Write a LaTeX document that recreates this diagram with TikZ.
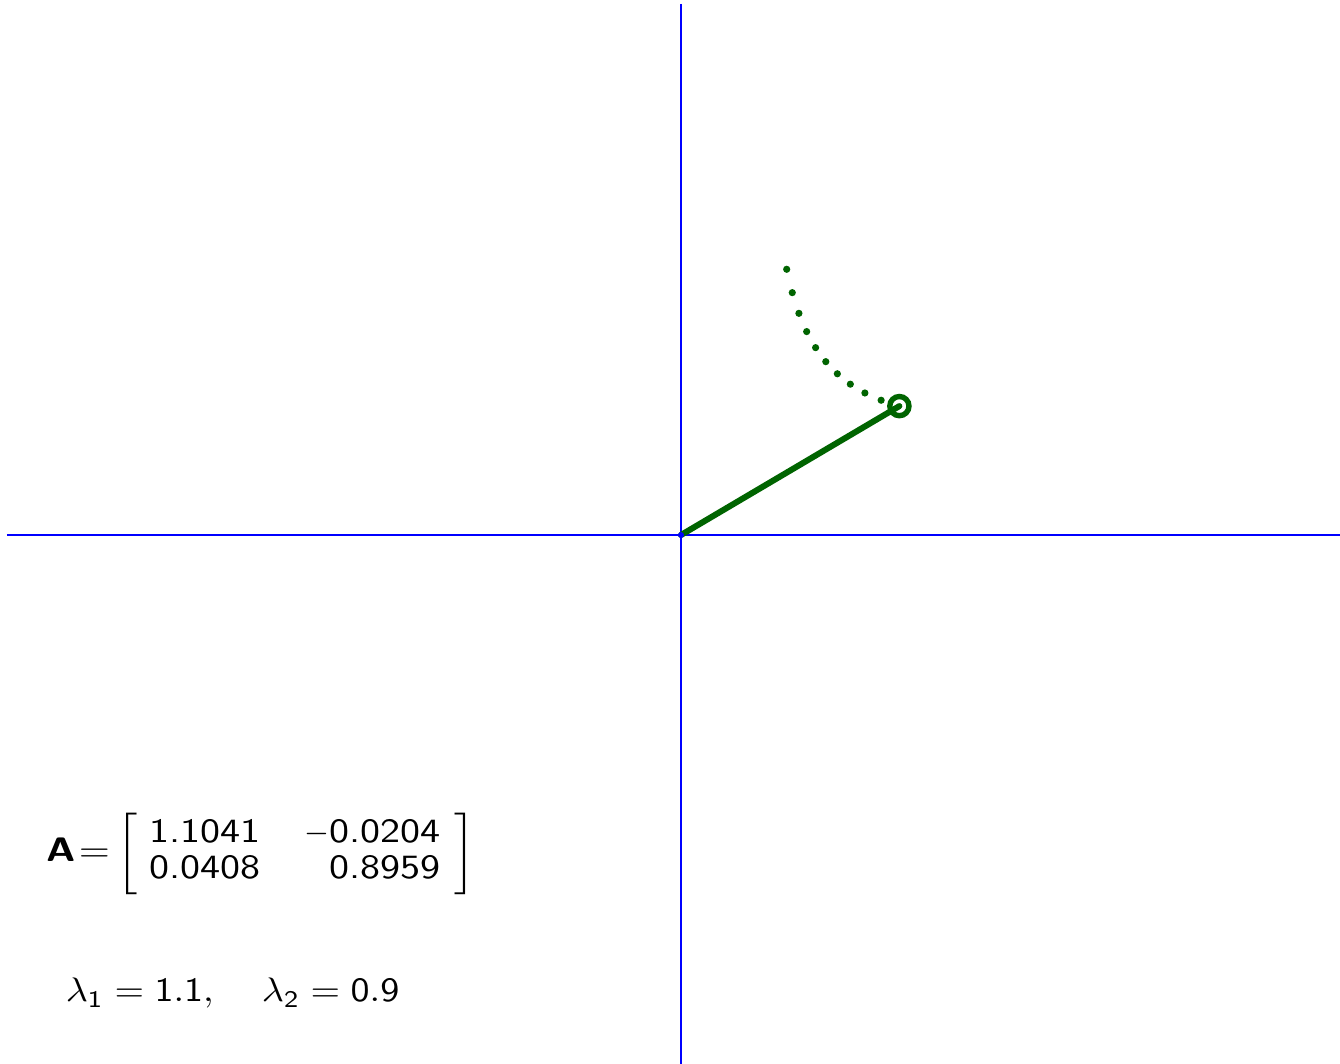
\documentclass[tikz,border=0pt]{standalone}
\usetikzlibrary{calc}
\definecolor{vecgreen}{RGB}{0,100,0}
\begin{document}
\begin{tikzpicture}[x=0.5pt,y=0.5pt,
  axis/.style={blue,line width=1pt},
  vec/.style={vecgreen,line width=3pt,line cap=round},
  trail/.style={fill=vecgreen,draw=none,circle,inner sep=0pt,minimum size=3.6pt},
  ring/.style={draw=vecgreen,line width=2.7pt,circle,inner sep=0pt,minimum size=9.6pt},
  lbl/.style={anchor=base west,inner sep=0pt,xscale=1.9,yscale=1.7,font=\fontsize{10}{10.3}\selectfont\sffamily}]
\useasboundingbox[fill=white] (-681,-529) rectangle (659,535);
% axes
\coordinate (xl) at (-674,0);
\coordinate (xr) at (659,0);
\coordinate (yt) at (0,531);
\coordinate (yb) at (0,-529);
\draw[axis] (xl) -- (xr);
\draw[axis] (yt) -- (yb);
% trail of iterates
\foreach \i/\x/\y in {0/105.7/265.7,1/111.28/242.35,2/117.92/221.66,3/125.68/203.40,
  4/134.62/187.36,5/144.81/173.34,6/156.35/161.21,7/169.34/150.81,8/183.89/142.02,9/200.13/134.74}
  \node[trail] (p\i) at (\x,\y) {};
% vector
\coordinate (o) at (0,0);
\coordinate (tip) at (218.4,128.9);
\draw[vec] (o) -- (tip);
\node[ring] (end) at (tip) {};
\node[fill=blue,circle,inner sep=0pt,minimum size=3pt] (odot) at (o) {};
% labels
\node[lbl,xscale=2/1.9] (mat) at (-635,-327) {$\textbf{A}\hspace{0.7pt}{=}\left[\begin{tabular}{@{\hspace{3pt}}l@{\hspace{11pt}}r@{\hspace{3.3pt}}}1.1041 & \scalebox{0.8}[1]{$-$}0.0204\\ 0.0408 & 0.8959\end{tabular}\right]$};
\node[lbl] (eig) at (-616,-467) {$\lambda_{\mathsf{1}} = \mathsf{1.1},\hspace{11pt}\lambda_{\mathsf{2}} = \mathsf{0.9}$};
\end{tikzpicture}
\end{document}
